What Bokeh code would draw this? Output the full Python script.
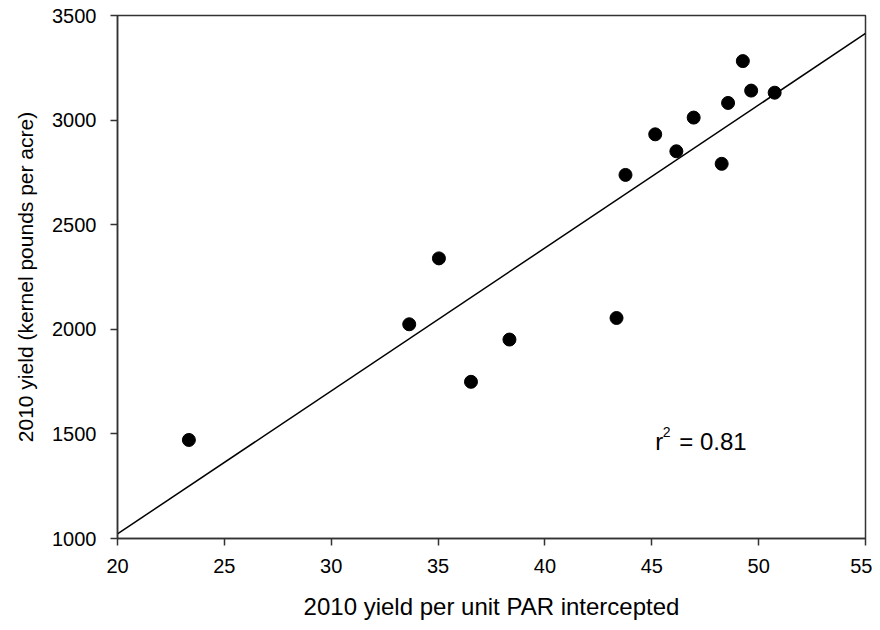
from bokeh.plotting import figure
from bokeh.models import FixedTicker, Range1d
from bokeh.core.properties import value
from bokeh.embed import file_html
from bokeh.resources import INLINE

# data
par_yield = [23.34, 33.65, 35.04, 36.54, 38.34, 43.35, 43.77, 45.16, 46.15, 46.96, 48.27, 48.57, 49.26, 49.65, 50.75]
kernel_yield = [1471, 2024, 2339, 1749, 1951, 2054, 2738, 2932, 2851, 3012, 2791, 3082, 3282, 3141, 3131]
fit_x = [20, 55]
fit_y = [1022, 3414]
x_ticks = [20, 25, 30, 35, 40, 45, 50, 55]
y_ticks = [1000, 1500, 2000, 2500, 3000, 3500]
r2_label_x = 45.16
r2_label_y = 1462

FONT = "Liberation Sans"
NBSP = "\u00a0"

p = figure(frame_width=748, frame_height=523,
           x_range=Range1d(20, 55), y_range=Range1d(1000, 3500),
           output_backend="svg", toolbar_location=None,
           min_border_left=117, min_border_top=15, min_border_right=7, min_border_bottom=70)

p.background_fill_color = "white"
p.border_fill_color = "white"
p.outline_line_color = "#333333"
p.outline_line_width = 1.5
p.grid.visible = False

p.line(fit_x, fit_y, line_color="black", line_width=1.5)
p.scatter(par_yield, kernel_yield, size=13, color="black", marker="circle")

p.text(x=[r2_label_x], y=[r2_label_y], text=["r"], text_font=value(FONT),
       text_font_size="24px", text_baseline="alphabetic", text_color="black")
p.text(x=[r2_label_x], y=[r2_label_y], text=["2"], text_font=value(FONT),
       text_font_size="14px", text_baseline="alphabetic", text_color="black",
       x_offset=7.5, y_offset=-10)
p.text(x=[r2_label_x], y=[r2_label_y], text=["= 0.81"], text_font=value(FONT),
       text_font_size="24px", text_baseline="alphabetic", text_color="black",
       x_offset=24)

for ax in (p.xaxis[0], p.yaxis[0]):
    ax.axis_line_color = "#333333"
    ax.axis_line_width = 1.5
    ax.major_tick_line_color = "#333333"
    ax.major_tick_line_width = 1.5
    ax.major_tick_out = 7
    ax.major_tick_in = 0
    ax.minor_tick_line_color = None
    ax.major_label_text_font = FONT
    ax.major_label_text_font_size = "20px"
    ax.major_label_text_color = "black"
    ax.axis_label_text_font = FONT
    ax.axis_label_text_font_style = "normal"
    ax.axis_label_text_color = "black"

p.xaxis.axis_label_text_font_size = "24px"
p.yaxis.axis_label_text_font_size = "21px"
p.xaxis.ticker = FixedTicker(ticks=x_ticks)
p.yaxis.ticker = FixedTicker(ticks=y_ticks)
p.xaxis.axis_label = "2010 yield per unit PAR intercepted"
p.yaxis.axis_label = "2010 yield (kernel pounds per acre)".replace(" ", NBSP)
p.xaxis.major_label_standoff = 13
p.yaxis.major_label_standoff = 14
p.xaxis.axis_label_standoff = 17
p.yaxis.axis_label_standoff = 12

open("out.html", "w").write(file_html(p, INLINE))
